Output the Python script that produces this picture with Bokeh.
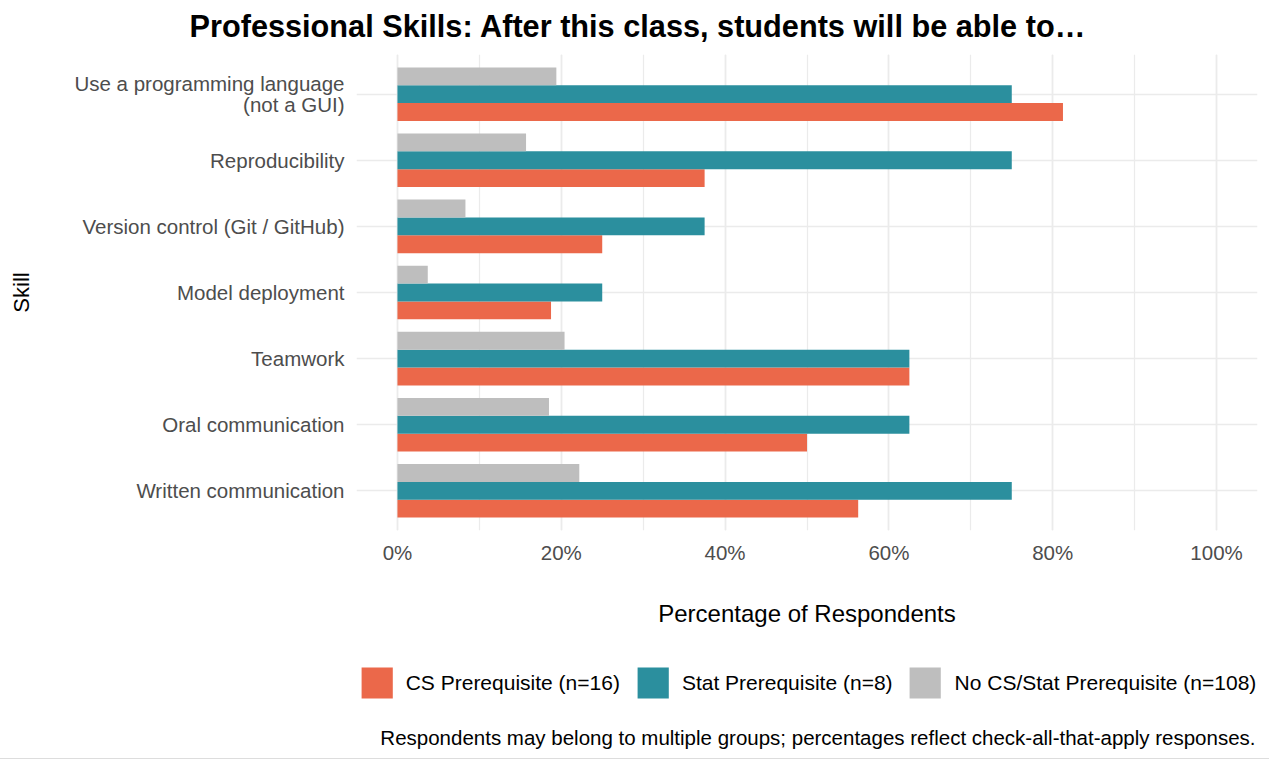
from bokeh.plotting import figure
from bokeh.layouts import column
from bokeh.models import (FactorRange, Range1d, SingleIntervalTicker, PrintfTickFormatter,
                          Legend, LegendItem, Label, ColumnDataSource)
from bokeh.transform import dodge
from bokeh.embed import file_html
from bokeh.resources import INLINE

# ---------------- data ----------------
skills = [
    "Written communication",
    "Oral communication",
    "Teamwork",
    "Model deployment",
    "Version control (Git / GitHub)",
    "Reproducibility",
    "Use a programming language\n(not a GUI)",
]
cs_pct = [56.25, 50.0, 62.5, 18.75, 25.0, 37.5, 81.25]
stat_pct = [75.0, 62.5, 62.5, 25.0, 37.5, 75.0, 75.0]
none_pct = [22.2, 18.5, 20.4, 3.7, 8.3, 15.7, 19.4]

group_labels = ["CS Prerequisite (n=16)", "Stat Prerequisite (n=8)", "No CS/Stat Prerequisite (n=108)"]
group_fields = ["cs", "stat", "none"]
group_colors = ["#EB684A", "#2B8F9E", "#BEBEBE"]
x_tick_step = 20

title_text = "Professional Skills: After this class, students will be able to\u2026"
x_title = "Percentage of Respondents"
y_title = "Skill"
caption_text = "Respondents may belong to multiple groups; percentages reflect check-all-that-apply responses."

FONT = "Liberation Sans"

source = ColumnDataSource(dict(skill=skills, cs=cs_pct, stat=stat_pct, none=none_pct))

# ---------------- main chart ----------------
p = figure(width=1269, height=630,
           y_range=FactorRange(factors=skills, range_padding=0.1, range_padding_units="absolute"),
           x_range=Range1d(-5, 105),
           output_backend="svg", toolbar_location=None,
           min_border_left=356, min_border_right=12, min_border_top=54, min_border_bottom=100)
p.outline_line_color = None
p.background_fill_color = "white"
p.border_fill_color = "white"

bar_h = 0.27
offsets = [-bar_h, 0.0, bar_h]
for field, off, col in zip(group_fields, offsets, group_colors):
    p.hbar(y=dodge("skill", off, range=p.y_range), left=0, right=field, height=bar_h,
           source=source, fill_color=col, line_color=None)

# title
p.title.text = title_text
p.title.text_font = FONT
p.title.text_font_size = "30.7px"
p.title.text_font_style = "bold"
p.title.text_color = "black"
p.title.align = "left"
p.title.offset = -167
p.title.padding = dict(left=0, right=0, top=0, bottom=6)

# x axis
p.xaxis.ticker = SingleIntervalTicker(interval=x_tick_step, num_minor_ticks=2)
p.xaxis.formatter = PrintfTickFormatter(format="%d%%")
p.xaxis.axis_line_color = None
p.xaxis.major_tick_line_color = None
p.xaxis.minor_tick_line_color = None
p.xaxis.major_tick_out = 0
p.xaxis.major_tick_in = 0
p.xaxis.major_label_standoff = 6
p.xaxis.major_label_text_font = FONT
p.xaxis.major_label_text_font_size = "20.5px"
p.xaxis.major_label_text_color = "#4D4D4D"
p.xaxis.axis_label = x_title
p.xaxis.axis_label_text_font = FONT
p.xaxis.axis_label_text_font_size = "24px"
p.xaxis.axis_label_text_font_style = "normal"
p.xaxis.axis_label_text_color = "black"
p.xaxis.axis_label_standoff = 33

# y axis
p.yaxis.axis_line_color = None
p.yaxis.major_tick_line_color = None
p.yaxis.minor_tick_line_color = None
p.yaxis.major_tick_out = 0
p.yaxis.major_tick_in = 0
p.yaxis.major_label_standoff = 12
p.yaxis.major_label_text_font = FONT
p.yaxis.major_label_text_font_size = "20.5px"
p.yaxis.major_label_text_color = "#4D4D4D"
p.yaxis.major_label_text_line_height = 0.91
p.yaxis.axis_label = y_title
p.yaxis.axis_label_text_font = FONT
p.yaxis.axis_label_text_font_size = "22px"
p.yaxis.axis_label_text_font_style = "normal"
p.yaxis.axis_label_text_color = "black"
p.yaxis.axis_label_standoff = 37

# grids
p.xgrid.grid_line_color = "#EBEBEB"
p.xgrid.grid_line_width = 1.6
p.xgrid.minor_grid_line_color = "#EBEBEB"
p.xgrid.minor_grid_line_width = 1.2
p.ygrid.grid_line_color = "#EBEBEB"
p.ygrid.grid_line_width = 1.6

# ---------------- legend + caption strip ----------------
lf = figure(width=1269, height=129, x_axis_type=None, y_axis_type=None,
            output_backend="svg", toolbar_location=None,
            min_border_left=356, min_border_right=12, min_border_top=0, min_border_bottom=0)
lf.outline_line_color = None
lf.background_fill_color = "white"
lf.border_fill_color = "white"
lf.styles = {"border-bottom": "1px solid #DDDDDD"}

# hidden proxy renderers (same data) that only supply the legend swatches
legend_renderers = [lf.hbar(y=0, left=0, right=field, height=1, source=source,
                            fill_color=col, line_color=None, visible=False)
                    for field, col in zip(group_fields, group_colors)]

legend = Legend(items=[LegendItem(label=lab, renderers=[r])
                       for lab, r in zip(group_labels, legend_renderers)],
                orientation="horizontal", location="top_center", click_policy="none",
                glyph_width=39, glyph_height=39, label_standoff=10, spacing=13,
                padding=0, margin=33, border_line_color=None, background_fill_alpha=0,
                inactive_fill_alpha=0,
                label_text_font=FONT, label_text_font_size="21px", label_text_color="black")
lf.add_layout(legend)

cap = Label(x=899, y=22, x_units="screen", y_units="screen", text=caption_text,
            text_align="right", text_baseline="middle", text_font=FONT,
            text_font_size="20.5px", text_color="black")
lf.add_layout(cap)

layout = column(p, lf, spacing=0)
open("out.html", "w").write(file_html(layout, INLINE))
